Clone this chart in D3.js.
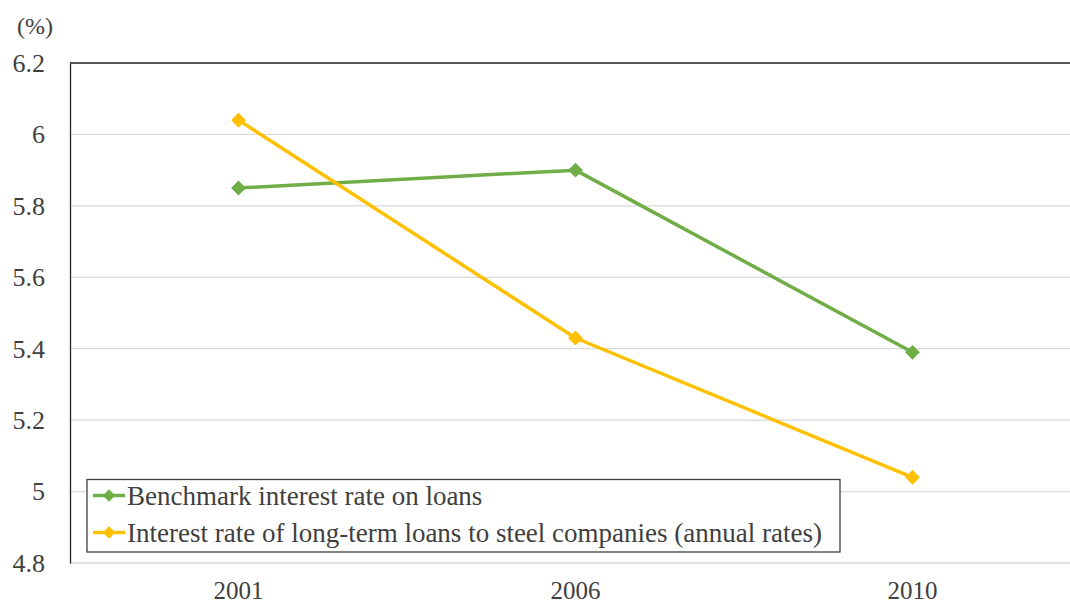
<!DOCTYPE html>
<html>
<head>
<meta charset="utf-8">
<script src="https://cdn.jsdelivr.net/npm/d3@7"></script>
<style>
  html, body { margin: 0; padding: 0; background: #fff; overflow: hidden; }
  svg { display: block; }
</style>
</head>
<body>
<svg id="chart" width="1070" height="605"></svg>
<script>
// Loan interest rates, percent per year
const years = ["2001", "2006", "2010"];
const benchmarkRate = [5.85, 5.90, 5.39];
const steelLoanRate = [6.04, 5.43, 5.04];
const seriesNames = [
  "Benchmark interest rate on loans",
  "Interest rate of long-term loans to steel companies (annual rates)"
];
const seriesColors = ["#70AD47", "#FFC000"];
const yTicks = [4.8, 5, 5.2, 5.4, 5.6, 5.8, 6, 6.2];

const series = [
  { name: seriesNames[0], color: seriesColors[0], values: benchmarkRate },
  { name: seriesNames[1], color: seriesColors[1], values: steelLoanRate }
];

// pick the first installed serif face by comparing canvas text widths
function pickSerif(candidates) {
  const ctx = document.createElement("canvas").getContext("2d");
  const sample = "Benchmark interest rate 0123456789 (%)";
  const widthOf = f => { ctx.font = `40px ${f}`; return ctx.measureText(sample).width; };
  const bases = ["monospace", "sans-serif"].map(widthOf);
  for (const name of candidates) {
    const w1 = widthOf(`"${name}", monospace`);
    const w2 = widthOf(`"${name}", sans-serif`);
    if (w1 !== bases[0] || w2 !== bases[1]) return `"${name}", serif`;
  }
  return "serif";
}
const textFont = pickSerif(["Liberation Serif", "Times New Roman", "Tinos", "Times",
  "Nimbus Roman", "Nimbus Roman No9 L", "DejaVu Serif", "Noto Serif", "FreeSerif"]);
const textColor = "#404040";

const svg = d3.select("#chart")
  .style("font-family", textFont);
const plotLeft = 70, plotRight = 1081, plotTop = 63, plotBottom = 563;

const x = d3.scaleBand().domain(years).range([plotLeft, plotRight]);
const y = d3.scaleLinear().domain([4.8, 6.2]).range([plotBottom, plotTop]);

// horizontal gridlines
svg.append("g")
  .selectAll("line")
  .data(yTicks)
  .join("line")
  .attr("x1", plotLeft).attr("x2", plotRight)
  .attr("y1", d => y(d)).attr("y2", d => y(d))
  .attr("stroke", "#d9d9d9").attr("stroke-width", 1.3);

// top frame line and left axis
svg.append("line")
  .attr("x1", plotLeft).attr("x2", plotRight)
  .attr("y1", plotTop).attr("y2", plotTop)
  .attr("stroke", "#262626").attr("stroke-width", 1.3);

const yAxis = svg.append("g")
  .attr("transform", `translate(${plotLeft},0)`)
  .call(d3.axisLeft(y).tickValues(yTicks).tickSize(0).tickPadding(25).tickFormat(d3.format("")));
yAxis.attr("font-family", textFont).attr("font-size", 26);
yAxis.select(".domain").attr("stroke", "#262626").attr("stroke-width", 1.3);
yAxis.selectAll("text").attr("fill", textColor);

const xAxis = svg.append("g")
  .attr("transform", `translate(0,${plotBottom})`)
  .call(d3.axisBottom(x).tickSize(0).tickPadding(18));
xAxis.attr("font-family", textFont).attr("font-size", 25);
xAxis.select(".domain").remove();
xAxis.selectAll("text").attr("fill", textColor);

// unit label
svg.append("text")
  .attr("x", 17).attr("y", 34)
  .attr("font-family", textFont)
  .attr("font-size", 24)
  .attr("fill", textColor)
  .text("(%)");

const diamond = d3.symbol().type(d3.symbolDiamond2).size(140);
const line = d3.line()
  .x((d, i) => x(years[i]) + x.bandwidth() / 2)
  .y(d => y(d));

const groups = svg.append("g")
  .selectAll("g")
  .data(series)
  .join("g");

groups.append("path")
  .attr("d", d => line(d.values))
  .attr("fill", "none")
  .attr("stroke", d => d.color)
  .attr("stroke-width", 3.5)
  .attr("stroke-linejoin", "round");

groups.each(function (s) {
  d3.select(this).selectAll("path.marker")
    .data(s.values)
    .join("path")
    .attr("class", "marker")
    .attr("d", diamond)
    .attr("transform", (d, i) => `translate(${x(years[i]) + x.bandwidth() / 2},${y(d)})`)
    .attr("fill", s.color);
});

// legend
const legend = svg.append("g");
legend.append("rect")
  .attr("x", 87).attr("y", 479.5).attr("width", 753).attr("height", 72.5)
  .attr("fill", "#fff").attr("stroke", "#404040").attr("stroke-width", 1.3);

const rows = legend.selectAll("g.row")
  .data(series)
  .join("g")
  .attr("class", "row")
  .attr("transform", (d, i) => `translate(0,${495.5 + i * 37})`);

rows.append("line")
  .attr("x1", 93).attr("x2", 125)
  .attr("stroke", d => d.color).attr("stroke-width", 3.5);
rows.append("path")
  .attr("d", d3.symbol().type(d3.symbolDiamond2).size(100))
  .attr("transform", "translate(109,0)")
  .attr("fill", d => d.color);
rows.append("text")
  .attr("x", 127).attr("y", 9.5)
  .attr("font-family", textFont)
  .attr("font-size", 27)
  .attr("fill", textColor)
  .text(d => d.name);
</script>
</body>
</html>
